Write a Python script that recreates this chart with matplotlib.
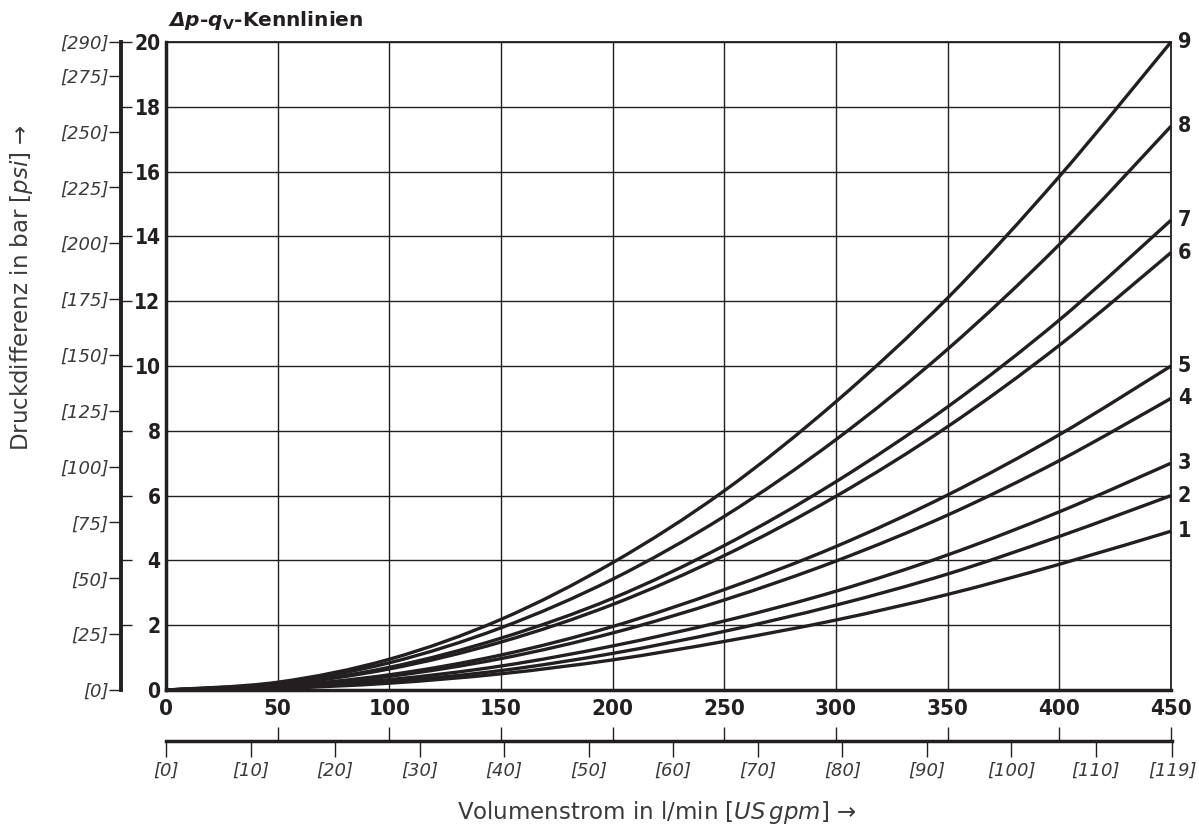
import matplotlib
matplotlib.use('Agg')
import matplotlib.pyplot as plt
from matplotlib import font_manager as fm
from matplotlib.path import Path
from matplotlib.patches import PathPatch
from matplotlib.ticker import FixedLocator
import numpy as np

# ---------------- data ----------------
flow_lpm = [0, 50, 100, 150, 200, 250, 300, 350, 400, 450]
curve_names = ['1', '2', '3', '4', '5', '6', '7', '8', '9']
dp_1 = [0, 0.05, 0.21, 0.50, 0.93, 1.50, 2.16, 2.95, 3.88, 4.9]
dp_2 = [0, 0.06, 0.26, 0.60, 1.13, 1.81, 2.62, 3.58, 4.74, 6.0]
dp_3 = [0, 0.08, 0.32, 0.74, 1.36, 2.13, 3.05, 4.17, 5.50, 7.0]
dp_4 = [0, 0.10, 0.42, 0.97, 1.76, 2.78, 3.98, 5.40, 7.08, 9.0]
dp_5 = [0, 0.12, 0.47, 1.08, 1.96, 3.10, 4.43, 6.02, 7.88, 10.0]
dp_6 = [0, 0.16, 0.65, 1.48, 2.64, 4.15, 5.98, 8.13, 10.64, 13.5]
dp_7 = [0, 0.17, 0.70, 1.60, 2.83, 4.46, 6.43, 8.74, 11.42, 14.5]
dp_8 = [0, 0.21, 0.84, 1.92, 3.42, 5.36, 7.73, 10.52, 13.75, 17.4]
dp_9 = [0, 0.24, 0.95, 2.18, 3.93, 6.15, 8.90, 12.10, 15.85, 20.0]
curves = [dp_1, dp_2, dp_3, dp_4, dp_5, dp_6, dp_7, dp_8, dp_9]

bar_ticks = list(range(0, 21, 2))
psi_ticks = [0, 25, 50, 75, 100, 125, 150, 175, 200, 225, 250, 275, 290]
lpm_ticks = list(range(0, 451, 50))
gpm_ticks = [0, 10, 20, 30, 40, 50, 60, 70, 80, 90, 100, 110, 119]
PSI_PER_BAR = 14.5038
LPM_PER_GPM = 3.78541

title_text = r'$\mathbfit{Δp}$-$\mathbfit{q}_{\mathbf{V}}$-Kennlinien'
xlabel_text = r'Volumenstrom in l/min $\mathit{[US\,gpm]}$ →'
ylabel_text = r'Druckdifferenz in bar $\mathit{[psi]}$ →'

# ---------------- style ----------------
INK = '#231f20'
GRAY = '#3a3a3a'
plt.rcParams['font.family'] = ['DejaVu Sans']
plt.rcParams['mathtext.fontset'] = 'custom'
plt.rcParams['mathtext.rm'] = 'DejaVu Sans'
plt.rcParams['mathtext.it'] = 'DejaVu Sans:italic'
plt.rcParams['mathtext.bf'] = 'DejaVu Sans:bold'
plt.rcParams['mathtext.bfit'] = 'DejaVu Sans:italic:bold'

names = {f.name for f in fm.fontManager.ttflist}
cond = [f for f in fm.fontManager.ttflist
        if f.name == 'DejaVu Sans' and 'condensed' in str(f.stretch)]
if 'Liberation Sans Narrow' in names:
    NARROW = dict(family='Liberation Sans Narrow', weight='bold')
elif cond:
    NARROW = dict(family='DejaVu Sans', stretch='condensed', weight='bold')
elif 'Roboto Condensed' in names:
    NARROW = dict(family='Roboto Condensed', weight='bold')
else:
    NARROW = dict(family='Liberation Sans', weight='bold')

W, H = 1199, 835
fig = plt.figure(figsize=(W / 100, H / 100), dpi=100)

def fx(px):
    return px / W

def fy(py):
    return 1 - py / H

X0, X1, Y0, Y1 = 166, 1171, 690, 42

# ---------------- main axes ----------------
ax = fig.add_axes([fx(X0), fy(Y0), fx(X1 - X0), (Y0 - Y1) / H])
ax.set_xlim(0, 450)
ax.set_ylim(0, 20)
ax.set_xticks(lpm_ticks)
ax.set_yticks(bar_ticks)
ax.set_xticklabels([str(v) for v in lpm_ticks], fontsize=16, color=INK, **NARROW)
ax.set_yticklabels([str(v) for v in bar_ticks], fontsize=15, color=INK, **NARROW)
ax.tick_params(axis='x', length=0, pad=6.5)
ax.tick_params(axis='y', length=0, pad=4)
ax.grid(True, color=INK, linewidth=1.0)
ax.set_axisbelow(True)
for side in ['left', 'bottom']:
    ax.spines[side].set_linewidth(2.5)
    ax.spines[side].set_color(INK)
for side in ['top', 'right']:
    ax.spines[side].set_linewidth(1.3)
    ax.spines[side].set_color(INK)


def smooth_path(x, y):
    pts = np.column_stack([np.asarray(x, float), np.asarray(y, float)])
    n = len(pts)
    verts = [pts[0]]
    codes = [Path.MOVETO]
    for i in range(n - 1):
        p0 = pts[i - 1] if i > 0 else pts[i]
        p1 = pts[i]
        p2 = pts[i + 1]
        p3 = pts[i + 2] if i + 2 < n else pts[i + 1]
        c1 = p1 + (p2 - p0) / 6.0
        c2 = p2 - (p3 - p1) / 6.0
        verts += [c1, c2, p2]
        codes += [Path.CURVE4] * 3
    return Path(verts, codes)


for name, vals in zip(curve_names, curves):
    patch = PathPatch(smooth_path(flow_lpm, vals), fill=False, edgecolor=INK,
                      linewidth=2.4, transform=ax.transData, clip_on=False,
                      zorder=3, capstyle='butt', joinstyle='round')
    ax.add_patch(patch)
    ax.annotate(name, xy=(flow_lpm[-1], vals[-1]), xytext=(5, 0),
                textcoords='offset points', ha='left', va='center',
                fontsize=15.5, color=INK, annotation_clip=False, **NARROW)

# ---------------- psi axis ----------------
ax_psi = fig.add_axes([fx(121), fy(Y0), 1e-5, (Y0 - Y1) / H])
ax_psi.set_ylim(0, 20)
ax_psi.patch.set_visible(False)
for side in ['top', 'right', 'bottom']:
    ax_psi.spines[side].set_visible(False)
ax_psi.spines['left'].set_linewidth(2.8)
ax_psi.spines['left'].set_color(INK)
ax_psi.set_xticks([])
ax_psi.yaxis.set_major_locator(FixedLocator([p / PSI_PER_BAR for p in psi_ticks]))
ax_psi.set_yticklabels(['[%d]' % p for p in psi_ticks], fontsize=13,
                       fontstyle='italic', color=GRAY)
ax_psi.set_yticks(bar_ticks, minor=True)
ax_psi.tick_params(axis='y', which='major', direction='out', length=8.6,
                   width=1.0, pad=0.5, color=INK)
ax_psi.tick_params(axis='y', which='minor', direction='in', length=7.8,
                   width=1.0, color=INK)

# ---------------- gpm axis ----------------
gpm_max = gpm_ticks[-1] * LPM_PER_GPM
ax_g = fig.add_axes([fx(X0), fy(741), fx(X1 - X0) * gpm_max / 450, 1e-5])
ax_g.set_xlim(0, gpm_max)
ax_g.patch.set_visible(False)
for side in ['top', 'right', 'left']:
    ax_g.spines[side].set_visible(False)
ax_g.spines['bottom'].set_linewidth(2.5)
ax_g.spines['bottom'].set_color(INK)
ax_g.set_yticks([])
ax_g.xaxis.set_major_locator(FixedLocator([g * LPM_PER_GPM for g in gpm_ticks]))
ax_g.set_xticklabels(['[%d]' % g for g in gpm_ticks], fontsize=13,
                     fontstyle='italic', color=GRAY)
ax_g.set_xticks(lpm_ticks, minor=True)
ax_g.tick_params(axis='x', which='major', direction='out', length=11.5,
                 width=1.0, pad=3.5, color=INK)
ax_g.tick_params(axis='x', which='minor', direction='in', length=10,
                 width=1.0, color=INK)

# ---------------- texts ----------------
fig.text(fx(168), fy(26), title_text, fontsize=14.5, fontweight='bold',
         color=INK, ha='left', va='baseline')
fig.text(fx(657), fy(812), xlabel_text, fontsize=16.5, color=GRAY,
         ha='center', va='center')
fig.text(fx(22), fy(288), ylabel_text, fontsize=16.5, color=GRAY,
         ha='center', va='center', rotation=90)

fig.savefig('out.png', dpi=100)
